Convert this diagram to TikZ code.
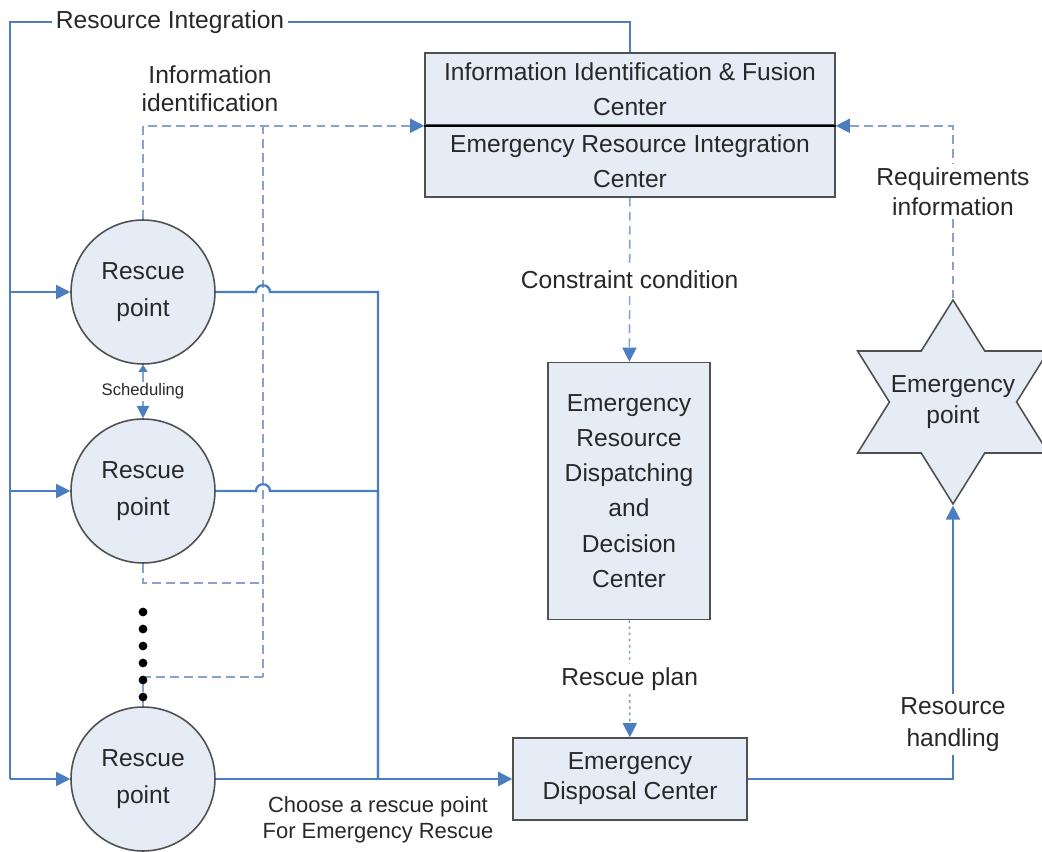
\documentclass[tikz,border=0pt]{standalone}
\usepackage{fontspec}
\setmainfont{Liberation Sans}
\usetikzlibrary{arrows.meta,shapes.geometric}

\definecolor{boxfill}{RGB}{230,236,246}
\definecolor{linkblue}{RGB}{74,126,193}
\definecolor{dashblue}{RGB}{135,163,205}
\definecolor{edgegray}{RGB}{80,80,80}
\definecolor{inkgray}{RGB}{40,40,40}

\begin{document}
\begin{tikzpicture} [x=0.02cm, y=-0.02cm,
        >={Triangle[length=8pt, width=8pt, color=linkblue]},
        every node/.style={text=inkgray, font=\fontsize{14}{17}\selectfont},
        rescue/.style={circle, draw=edgegray, line width=0.9pt, fill=boxfill, minimum size=2.88cm, inner sep=0pt, align=center, font=\fontsize{14}{21}\selectfont},
        ctrbox/.style={rectangle, draw=edgegray, line width=0.9pt, fill=boxfill, inner sep=0pt, align=center, font=\fontsize{14}{20}\selectfont},
        emstar/.style={star, star points=6, star point ratio=1.732, draw=edgegray, line width=0.9pt, fill=boxfill, minimum size=4.08cm, inner sep=0pt},
        flow/.style={draw=linkblue, line width=1.3pt},
        bus/.style={draw=linkblue, line width=0.9pt},
        info/.style={draw=dashblue, line width=0.9pt, dash pattern=on 5pt off 3pt},
        plan/.style={draw=dashblue, line width=0.9pt, dash pattern=on 1.5pt off 2pt},
        lbl/.style={fill=white, inner sep=2pt, align=center}]
        \useasboundingbox (0,0) rectangle (1042,852);

        % centers
        \node [ctrbox, minimum width=8.2cm, minimum height=1.44cm] (fus) at (630,89) {Information Identification \& Fusion\\Center};
        \node [ctrbox, minimum width=8.2cm, minimum height=1.44cm] (intg) at (630,161) {Emergency Resource Integration\\Center};
        \draw [black, line width=1.2pt] (fus.south west) -- (fus.south east);
        \node [ctrbox, minimum width=3.24cm, minimum height=5.14cm] (dsp) at (629,491) {Emergency\\Resource\\Dispatching\\and\\Decision\\Center};
        \node [ctrbox, minimum width=4.68cm, minimum height=1.64cm, font=\fontsize{14}{17}\selectfont] (dpo) at (630,779) {Emergency\\Disposal Center};
        \begin{scope} [shift={(953,402)}, xscale=1.08]
            \node [emstar, transform shape] (ep) at (0,0) {};
        \end{scope}
        \node [align=center, font=\fontsize{14}{17.5}\selectfont] (eptxt) at (ep.center) {Emergency\\point};

        % rescue points
        \foreach \y [count=\i] in {292,491,779}
        {
            \node [rescue] (c\i) at (143,\y) {Rescue\\point};
            \coordinate (l\i) at (10,\y);
            \draw [bus, ->] (l\i) -- (c\i);
        }
        \coordinate (tl) at (10,22);
        \draw [bus] (l3) -- (tl) -| (fus.north);
        \node [lbl] (ri) at (170,22) {Resource Integration};

        % information identification
        \node [align=center, font=\fontsize{14}{16}\selectfont] (iid) at (210,89) {Information\\identification};
        \coordinate (t) at (263,125);
        \coordinate (m) at (263,583);
        \coordinate (b) at (263,677);
        \draw [info, ->] (c1.north) |- (fus.south west);
        \draw [info] (t) -- (b);
        \draw [info] (c2.south) |- (m);
        \draw [info] (c3.north) |- (b);
        \foreach \y in {612,629,...,697}
            \fill [black] (143,\y) circle [radius=2.5pt];

        \draw [draw=dashblue, line width=0.8pt, {Triangle[length=4pt, width=5pt, color=linkblue]}-{Triangle[length=7pt, width=7pt, color=linkblue]}] (c1) -- (c2) node [lbl, midway, inner sep=1pt, font=\fontsize{9.5}{11}\selectfont] {Scheduling};

        % choose a rescue point
        \coordinate (j) at (378,779);
        \foreach \i/\y in {1/292,2/491}
            \draw [flow] (c\i.east) -- (256,\y) .. controls (256,\y-9) and (270,\y-9) .. (270,\y) -| (j);
        \draw [flow, ->] (c3) -- (dpo);
        \node [align=center, font=\fontsize{12.5}{15}\selectfont] (chs) at (378,820) {Choose a rescue point\\For Emergency Rescue};

        \draw [info, ->] (intg) -- (dsp) node [lbl, midway] {Constraint condition};
        \draw [plan, ->] (dsp) -- (dpo) node [lbl, midway] {Rescue plan};
        \draw [flow, ->] (dpo) -| (ep.south) node [lbl, pos=0.6, font=\fontsize{14}{18}\selectfont] {Resource\\handling};
        \draw [info, ->] (ep.north) |- (fus.south east) node [lbl, pos=0.31, font=\fontsize{14}{17}\selectfont] {Requirements\\information};
    \end{tikzpicture}
\end{document}
